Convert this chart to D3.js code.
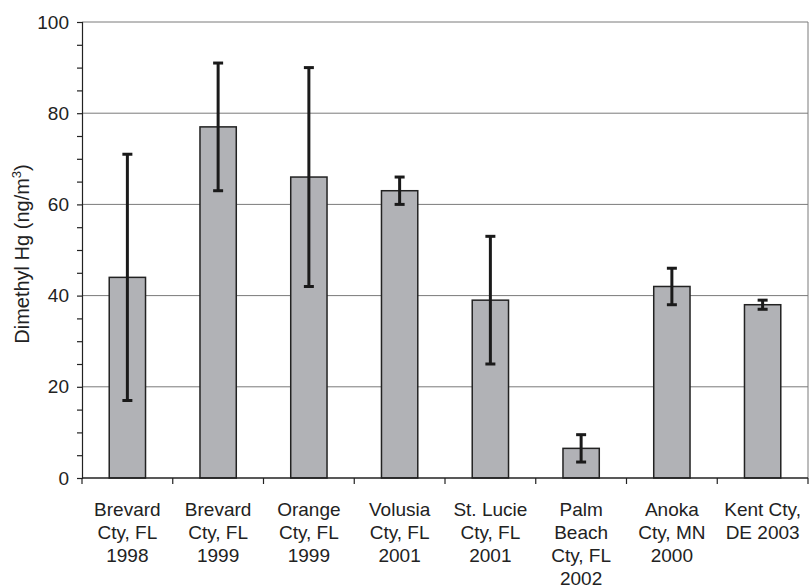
<!DOCTYPE html>
<html>
<head>
<meta charset="utf-8">
<script src="https://cdn.jsdelivr.net/npm/d3@7"></script>
<style>
  body { margin: 0; background: #fff; }
  svg text { font-family: 'Liberation Sans', Arial, sans-serif; fill: #222; }
</style>
</head>
<body>
<svg id="chart"></svg>
<script>
const sites = [
  ["Brevard", "Cty, FL", "1998"],
  ["Brevard", "Cty, FL", "1999"],
  ["Orange", "Cty, FL", "1999"],
  ["Volusia", "Cty, FL", "2001"],
  ["St. Lucie", "Cty, FL", "2001"],
  ["Palm", "Beach", "Cty, FL", "2002"],
  ["Anoka", "Cty, MN", "2000"],
  ["Kent Cty,", "DE 2003"]
]
const means = [44, 77, 66, 63, 39, 6.5, 42, 38]
const lows = [17, 63, 42, 60, 25, 3.5, 38, 37]
const highs = [71, 91, 90, 66, 53, 9.5, 46, 39]
const yTicks = [0, 20, 40, 60, 80, 100]

drawChart()

function drawChart() {
  const width = 810
  const height = 588
  const margin = { top: 22, right: 2, bottom: 110, left: 82 }

  const svg = d3.select('#chart')
    .attr('width', width)
    .attr('height', height)

  const x = d3.scaleBand()
    .domain(d3.range(sites.length))
    .range([margin.left, width - margin.right])
    .paddingInner(0.6)
    .paddingOuter(0.3)

  const y = d3.scaleLinear()
    .domain([0, 100])
    .range([height - margin.bottom, margin.top])

  const step = (width - margin.right - margin.left) / sites.length

  // gridlines
  svg.append('g')
    .selectAll('line')
    .data(yTicks.filter(d => d > 0))
    .enter()
    .append('line')
    .attr('x1', margin.left)
    .attr('x2', width - margin.right)
    .attr('y1', d => y(d))
    .attr('y2', d => y(d))
    .attr('stroke', '#7a7a7a')
    .attr('stroke-width', 1)

  // right border
  svg.append('line')
    .attr('x1', width - margin.right)
    .attr('x2', width - margin.right)
    .attr('y1', y(100))
    .attr('y2', y(0))
    .attr('stroke', '#7a7a7a')

  // bars
  svg.append('g')
    .selectAll('rect')
    .data(means)
    .enter()
    .append('rect')
    .attr('x', (d, i) => x(i))
    .attr('y', d => y(d))
    .attr('width', x.bandwidth())
    .attr('height', d => y(0) - y(d))
    .attr('fill', '#b1b2b6')
    .attr('stroke', '#222')
    .attr('stroke-width', 1.5)

  // error bars
  const err = svg.append('g')
    .attr('stroke', '#1a1a1a')
    .attr('stroke-width', 3)
  means.forEach((m, i) => {
    const cx = x(i) + x.bandwidth() / 2
    err.append('line')
      .attr('x1', cx).attr('x2', cx)
      .attr('y1', y(lows[i])).attr('y2', y(highs[i]))
    err.append('line')
      .attr('x1', cx - 5).attr('x2', cx + 5)
      .attr('y1', y(lows[i])).attr('y2', y(lows[i]))
    err.append('line')
      .attr('x1', cx - 5).attr('x2', cx + 5)
      .attr('y1', y(highs[i])).attr('y2', y(highs[i]))
  })

  // y axis
  const yAxis = svg.append('g')
    .attr('transform', `translate(${margin.left},0)`)
    .call(d3.axisLeft(y).tickValues(d3.range(0, 101, 5)).tickSize(5).tickFormat(d => yTicks.includes(d) ? d : ''))
  yAxis.select('.domain').attr('stroke', '#222').attr('stroke-width', 1.2)
  yAxis.selectAll('.tick line').attr('stroke', '#222').attr('stroke-width', 1.2)
  yAxis.selectAll('.tick text')
    .attr('x', -13)
    .style('font-size', '19px')
    .style('font-family', "'Liberation Sans', Arial, sans-serif")
    .attr('fill', '#222')

  // x axis line and boundary ticks
  svg.append('line')
    .attr('x1', margin.left)
    .attr('x2', width - margin.right)
    .attr('y1', y(0))
    .attr('y2', y(0))
    .attr('stroke', '#222')
    .attr('stroke-width', 1.5)

  svg.append('g')
    .selectAll('line')
    .data(d3.range(sites.length + 1))
    .enter()
    .append('line')
    .attr('x1', d => margin.left + d * step)
    .attr('x2', d => margin.left + d * step)
    .attr('y1', y(0))
    .attr('y2', y(0) + 6)
    .attr('stroke', '#222')
    .attr('stroke-width', 1.2)

  // category labels
  const labels = svg.append('g')
    .selectAll('text')
    .data(sites)
    .enter()
    .append('text')
    .attr('text-anchor', 'middle')
    .style('font-size', '19px')
    .attr('x', (d, i) => x(i) + x.bandwidth() / 2)
    .attr('y', y(0) + 38)
  labels.selectAll('tspan')
    .data(d => d)
    .enter()
    .append('tspan')
    .attr('x', function () { return this.parentNode.getAttribute('x') })
    .attr('dy', (d, i) => i === 0 ? 0 : 23)
    .text(d => d)

  // y axis title
  const title = svg.append('text')
    .attr('transform', `translate(29,${(y(0) + y(100)) / 2 + 4}) rotate(-90)`)
    .attr('text-anchor', 'middle')
    .style('font-size', '20px')
  title.append('tspan').text('Dimethyl Hg (ng/m')
  title.append('tspan').text('3').attr('dy', -8).style('font-size', '13px')
  title.append('tspan').text(')').attr('dy', 8)
}
</script>
</body>
</html>
